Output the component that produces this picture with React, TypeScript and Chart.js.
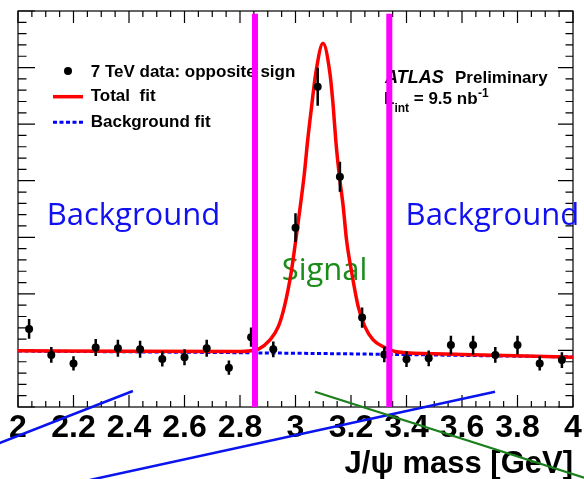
import React, { useEffect, useRef } from "react";
import { Chart, registerables } from "chart.js";
Chart.register(...registerables);

// ---- data ----
const binCenters = [2.04, 2.12, 2.2, 2.28, 2.36, 2.44, 2.52, 2.6, 2.68, 2.76, 2.84, 2.92, 3.0, 3.08, 3.16, 3.24, 3.32, 3.4, 3.48, 3.56, 3.64, 3.72, 3.8, 3.88, 3.96];
const counts = [27.6, 18.4, 15.4, 21.0, 20.8, 20.4, 17.0, 17.6, 20.8, 13.9, 24.7, 20.4, 63.4, 113.2, 81.4, 31.6, 18.6, 16.9, 17.2, 21.9, 21.9, 18.4, 21.9, 15.4, 16.6];
const errors = [3.5, 2.8, 2.5, 3.0, 3.0, 3.0, 2.7, 2.8, 3.0, 2.5, 3.4, 2.8, 5.1, 6.7, 5.3, 3.6, 2.8, 2.8, 2.8, 3.3, 3.3, 2.8, 3.3, 2.5, 2.8];

const fitX = [2.0, 2.4, 2.8, 2.84, 2.866, 2.908, 2.938, 2.96, 2.984, 3.001, 3.017, 3.032, 3.044, 3.058, 3.073, 3.099, 3.124, 3.136, 3.145, 3.157, 3.172, 3.184, 3.203, 3.226, 3.25, 3.28, 3.316, 3.359, 3.4, 3.6, 4.0];
const fitY = [19.9, 19.7, 19.6, 19.9, 20.4, 23.7, 28.4, 35.5, 47.3, 59.0, 70.8, 82.6, 94.4, 106.2, 118.0, 128.6, 118.0, 106.2, 94.4, 82.6, 70.8, 59.0, 47.3, 35.5, 28.4, 23.7, 21.3, 19.6, 19.2, 18.6, 17.6];

const bgX = [2.0, 3.0, 4.0];
const bgY = [19.8, 19.0, 17.7];

const windowEdges = [2.854, 3.338];
const windowTop = 139;

const blueStroke1X = [1.917, 2.414];
const blueStroke1Y = [-13.4, 5.66];
const blueStroke2X = [2.259, 3.719];
const blueStroke2Y = [-25.8, 5.4];
const greenStrokeX = [3.07, 4.04];
const greenStrokeY = [5.4, -25.0];

const xTickValues = [2, 2.2, 2.4, 2.6, 2.8, 3, 3.2, 3.4, 3.6, 3.8, 4];
const xTickLabels = ["2", "2.2", "2.4", "2.6", "2.8", "3", "3.2", "3.4", "3.6", "3.8", "4"];
const axisTitle = "J/\u03C8 mass [GeV]";
const legendLabels = ["7 TeV data: opposite sign", "Total  fit", "Background fit"];
const regionLabels = ["Background", "Signal", "Background"];
const atlasLabel = "ATLAS";
const prelimLabel = "Preliminary";

const X_MIN = 2, X_MAX = 4, Y_MIN = 0, Y_MAX = 140;

const HELV = '"Liberation Sans", Arial, sans-serif';
const CALIB = '"Open Sans", sans-serif';

const framePlugin = {
  id: "rootFrame",
  beforeDatasetsDraw(chart: any) {
    const { ctx, chartArea: a, scales } = chart;
    const x = scales.x, y = scales.y;
    ctx.save();
    ctx.strokeStyle = "#000";
    ctx.lineWidth = 1.2;
    ctx.strokeRect(a.left, a.top, a.right - a.left, a.bottom - a.top);
    ctx.beginPath();
    for (let i = 0; i <= 40; i++) {
      const v = X_MIN + i * 0.05;
      const px = x.getPixelForValue(v);
      const L = i % 4 === 0 ? 12 : 6;
      ctx.moveTo(px, a.bottom); ctx.lineTo(px, a.bottom - L);
      ctx.moveTo(px, a.top); ctx.lineTo(px, a.top + L);
    }
    for (let i = 0; i <= 35; i++) {
      const v = Y_MIN + i * 4;
      const py = y.getPixelForValue(v);
      const major = i % 5 === 0;
      ctx.moveTo(a.left, py); ctx.lineTo(a.left + (major ? 17 : 8.5), py);
      ctx.moveTo(a.right, py); ctx.lineTo(a.right - (major ? 15 : 7.5), py);
    }
    ctx.stroke();

    // legend
    ctx.fillStyle = "#000";
    ctx.beginPath();
    ctx.arc(68, 71, 4, 0, Math.PI * 2);
    ctx.fill();
    ctx.strokeStyle = "#ff0000";
    ctx.lineWidth = 3.5;
    ctx.beginPath(); ctx.moveTo(53, 96.7); ctx.lineTo(83, 96.7); ctx.stroke();
    ctx.strokeStyle = "#0000ff";
    ctx.lineWidth = 3;
    ctx.setLineDash([4, 2.5]);
    ctx.beginPath(); ctx.moveTo(53, 122.3); ctx.lineTo(83, 122.3); ctx.stroke();
    ctx.setLineDash([]);
    ctx.font = `bold 17px ${HELV}`;
    ctx.textBaseline = "alphabetic";
    ctx.textAlign = "left";
    ctx.fillText(legendLabels[0], 90.7, 77.3);
    ctx.fillText(legendLabels[1], 90.7, 100.7);
    ctx.fillText(legendLabels[2], 90.7, 126.7);

    // ATLAS label
    ctx.font = `italic bold 18px ${HELV}`;
    ctx.fillText(atlasLabel, 385, 82.7);
    ctx.font = `bold 17px ${HELV}`;
    ctx.fillText(prelimLabel, 455, 82.7);
    let cx = 384;
    ctx.fillText("L", cx, 104);
    cx += ctx.measureText("L").width;
    ctx.font = `bold 12px ${HELV}`;
    ctx.fillText("int", cx, 112);
    cx += ctx.measureText("int").width;
    ctx.font = `bold 17px ${HELV}`;
    ctx.fillText(" = 9.5 nb", cx, 104);
    cx += ctx.measureText(" = 9.5 nb").width;
    ctx.font = `bold 12px ${HELV}`;
    ctx.fillText("-1", cx + 0.5, 97);

    // region labels
    ctx.font = `31px ${CALIB}`;
    ctx.fillStyle = "#1010f0";
    ctx.fillText(regionLabels[0], 46.7, 225);
    ctx.fillText(regionLabels[2], 405.6, 225);
    ctx.fillStyle = "#1a8c1a";
    ctx.fillText(regionLabels[1], 281.7, 280);
    ctx.restore();
  },
};

export default function App() {
  const ref = useRef<HTMLCanvasElement | null>(null);
  useEffect(() => {
    if (!ref.current) return;
    const pts = (xs: number[], ys: number[]) => xs.map((v, i) => ({ x: v, y: ys[i] }));
    const errData: any[] = [];
    binCenters.forEach((c, i) => {
      errData.push({ x: c, y: counts[i] - errors[i] });
      errData.push({ x: c, y: counts[i] + errors[i] });
      errData.push({ x: c, y: null });
    });
    const chart = new Chart(ref.current, {
      type: "scatter",
      data: {
        datasets: [
          {
            type: "line", label: "bg", data: pts(bgX, bgY) as any, borderColor: "#0000ff", borderWidth: 3,
            borderDash: [4, 2.5], pointRadius: 0, tension: 0.4, order: 6,
          },
          {
            type: "line", label: "fit", data: pts(fitX, fitY) as any, borderColor: "#ff0000", borderWidth: 3.5,
            pointRadius: 0, cubicInterpolationMode: "monotone", order: 5,
          },
          {
            type: "line", label: "err", data: errData, borderColor: "#000", borderWidth: 2.5, pointRadius: 0,
            spanGaps: false, borderCapStyle: "butt", order: 4,
          },
          {
            type: "scatter", label: "data", data: pts(binCenters, counts) as any, backgroundColor: "#000",
            borderColor: "#000", pointRadius: 4, borderWidth: 0, order: 3,
          },
          ...windowEdges.map((e) => ({
            type: "line" as const, label: "win", data: [{ x: e, y: Y_MIN }, { x: e, y: windowTop }],
            borderColor: "#ff00ff", borderWidth: 6, pointRadius: 0, borderCapStyle: "butt" as const, clip: false as any, order: 2,
          })),
          {
            type: "line", label: "s1", data: pts(blueStroke1X, blueStroke1Y) as any, borderColor: "#0a14ee",
            borderWidth: 2.5, pointRadius: 0, clip: false as any, order: 1,
          },
          {
            type: "line", label: "s2", data: pts(blueStroke2X, blueStroke2Y) as any, borderColor: "#0a14ee",
            borderWidth: 2.5, pointRadius: 0, clip: false as any, order: 1,
          },
          {
            type: "line", label: "s3", data: pts(greenStrokeX, greenStrokeY) as any, borderColor: "#1b801b",
            borderWidth: 2.2, pointRadius: 0, clip: false as any, order: 0,
          },
        ] as any,
      },
      options: {
        responsive: false,
        animation: false,
        devicePixelRatio: 1,
        layout: { padding: { left: 18, right: 11, top: 11, bottom: 0 } },
        plugins: { legend: { display: false }, tooltip: { enabled: false } },
        scales: {
          x: {
            type: "linear", min: X_MIN, max: X_MAX, offset: false,
            grid: { display: false, drawTicks: false },
            border: { display: false },
            afterBuildTicks: (s: any) => { s.ticks = xTickValues.map((v) => ({ value: v })); },
            afterFit: (s: any) => { s.height = 72; },
            ticks: {
              autoSkip: false, maxRotation: 0, padding: 2, color: "#000",
              font: { family: HELV, size: 32, weight: "bold" },
              callback: (_v: any, i: number) => xTickLabels[i],
            },
            title: {
              display: true, text: axisTitle, align: "end", color: "#000", padding: 0,
              font: { family: HELV, size: 31, weight: "bold", lineHeight: 0.97 },
            },
          },
          y: { type: "linear", min: Y_MIN, max: Y_MAX, display: false },
        },
      } as any,
      plugins: [framePlugin],
    });
    return () => chart.destroy();
  }, []);
  return (
    <div style={{ position: "absolute", left: 0, top: 0, width: 584, height: 479, background: "#fff" }}>
      <canvas ref={ref} width={584} height={479} style={{ display: "block" }} />
    </div>
  );
}
